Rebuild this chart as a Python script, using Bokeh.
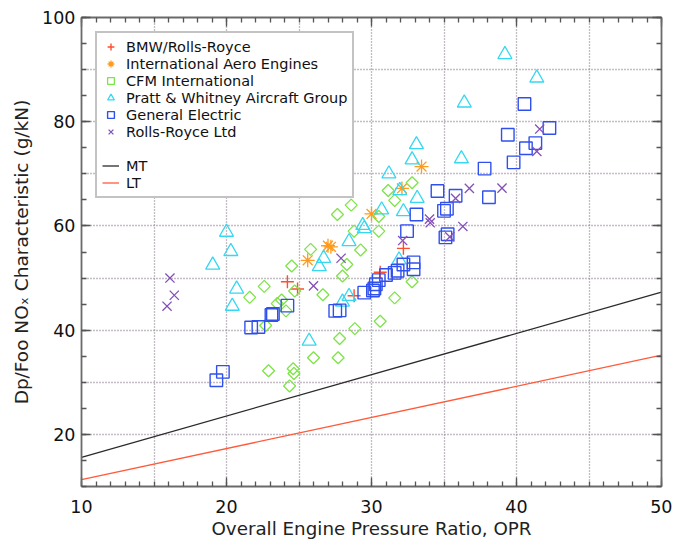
import math
from bokeh.plotting import figure
from bokeh.models import (LinearAxis, SingleIntervalTicker, FixedTicker, Legend,
                          LegendItem, CustomJSTickFormatter, Range1d)
from bokeh.embed import file_html
from bokeh.resources import INLINE

# ---- data ----
bmw_x = [24.2, 24.9, 28.8, 30.6, 32.2]
bmw_y = [49.3, 47.9, 46.6, 51.1, 55.7]

iae_x = [25.6, 27.0, 27.2, 30.0, 32.1, 33.45]
iae_y = [53.4, 56.2, 56.0, 62.3, 67.2, 71.4]

cfm_x = [21.6, 22.6, 22.7, 22.9, 23.5, 23.8, 24.1, 24.5, 24.7, 24.6, 24.65, 24.35,
         25.8, 26.0, 26.65, 27.65, 27.7, 27.8, 28.0, 28.3, 28.6, 28.8, 28.85, 29.25,
         30.5, 30.5, 30.6, 31.15, 31.6, 31.6, 32.8, 32.8]
cfm_y = [46.3, 48.4, 40.9, 32.2, 45.1, 45.8, 43.7, 52.3, 47.5, 32.6, 31.7, 29.3,
         55.5, 34.7, 46.8, 62.2, 34.7, 38.4, 50.4, 52.6, 64.0, 59.0, 40.3, 55.4,
         61.8, 59.0, 41.7, 66.8, 46.2, 64.9, 68.3, 49.3]

pw_x = [19.05, 20.0, 20.3, 20.7, 20.4, 25.7, 26.4, 26.7, 28.0, 28.45, 28.45, 29.4,
        29.5, 30.7, 31.2, 31.9, 31.95, 32.2, 32.8, 33.1, 33.15, 36.2, 36.4, 39.2, 41.4]
pw_y = [52.5, 58.8, 55.1, 47.9, 44.6, 37.9, 52.2, 53.8, 45.4, 46.5, 57.0, 60.1,
        59.5, 63.1, 70.0, 53.5, 66.8, 62.75, 72.7, 75.6, 65.3, 72.9, 83.6, 92.9, 88.4]

ge_x = [19.3, 19.75, 21.7, 22.2, 23.1, 23.2, 24.2, 27.5, 27.8,
        29.5, 30.1, 30.2, 30.3, 30.5, 31.0, 31.6, 31.8, 32.2, 32.9, 32.9,
        32.45, 33.1, 34.55, 35.0, 35.2, 35.1, 35.25, 35.8, 37.8, 38.1,
        39.4, 39.8, 40.55, 40.65, 41.3, 42.27]
ge_y = [30.4, 32.0, 40.5, 40.6, 42.9, 43.1, 44.7, 43.7, 43.8,
        47.2, 47.6, 48.0, 48.8, 49.6, 50.6, 51.0, 51.4, 52.6, 53.0, 51.7,
        59.0, 62.2, 66.7, 62.9, 63.3, 57.8, 58.4, 65.8, 71.0, 65.5,
        77.5, 72.2, 83.4, 74.9, 75.9, 78.8]

rr_x = [15.9, 16.1, 16.4, 26.0, 27.9, 32.15, 34.0, 34.05, 35.4, 35.8, 36.3, 36.75,
        39.0, 41.4, 41.6]
rr_y = [44.6, 50.0, 46.7, 48.5, 53.8, 57.2, 61.3, 60.6, 57.9, 65.3, 59.9, 67.2,
        67.25, 74.3, 78.6]

mt_x = [10, 50]
mt_y = [15.6, 47.3]
lt_x = [10, 50]
lt_y = [11.3, 35.2]

x_major = 10
y_major = 20
x_grid = [15, 20, 25, 30, 35, 40, 45]
y_grid = [20, 30, 40, 50, 60, 70, 80, 90]

FONT = "DejaVu Sans"
FRAME = "#6a6a6a"
TICK = "#555555"

p = figure(width=672, height=541, x_range=Range1d(10, 50), y_range=Range1d(10, 100),
           output_backend="svg", toolbar_location=None,
           min_border_left=81, min_border_right=11, min_border_top=17, min_border_bottom=54)
p.outline_line_color = None
p.background_fill_color = "white"
p.border_fill_color = "white"

# grid
p.xgrid.ticker = FixedTicker(ticks=x_grid)
p.ygrid.ticker = FixedTicker(ticks=y_grid)
p.grid.grid_line_color = "#8a7a8c"
p.grid.grid_line_dash = "1 2"
p.grid.grid_line_width = 1.3
p.grid.grid_line_alpha = 1.0

# axes
def style_axis(ax):
    ax.axis_line_color = FRAME
    ax.axis_line_width = 1.8
    ax.major_tick_line_color = TICK
    ax.minor_tick_line_color = TICK
    ax.major_tick_line_width = 1.3
    ax.minor_tick_line_width = 1.3
    ax.major_tick_in = 9
    ax.major_tick_out = 0
    ax.minor_tick_in = 5
    ax.minor_tick_out = 0

for ax in (p.xaxis[0], p.yaxis[0]):
    style_axis(ax)
    ax.major_label_text_font = FONT
    ax.major_label_text_font_size = "17.5px"
    ax.major_label_text_color = "#111111"
    ax.axis_label_text_font = FONT
    ax.axis_label_text_font_style = "normal"
    ax.axis_label_text_color = "#222222"

p.xaxis[0].ticker = SingleIntervalTicker(interval=x_major, num_minor_ticks=10)
p.yaxis[0].ticker = SingleIntervalTicker(interval=y_major, num_minor_ticks=4)
p.xaxis[0].axis_label = "Overall Engine Pressure Ratio, OPR"
p.yaxis[0].axis_label = "Dp/Foo NO\u2093 Characteristic (g/kN)"
p.xaxis[0].axis_label_text_font_size = "18.3px"
p.yaxis[0].axis_label_text_font_size = "18.5px"
p.xaxis[0].major_label_standoff = 13
p.xaxis[0].axis_label_standoff = 2
p.yaxis[0].major_label_standoff = 6
p.yaxis[0].axis_label_standoff = 7

# mirror axes (ticks only)
empty = CustomJSTickFormatter(code="return ''")
top = LinearAxis(ticker=SingleIntervalTicker(interval=x_major, num_minor_ticks=10), formatter=empty)
right = LinearAxis(ticker=SingleIntervalTicker(interval=y_major, num_minor_ticks=4), formatter=empty)
for ax in (top, right):
    style_axis(ax)
    ax.major_label_standoff = 0
    ax.major_label_text_font_size = "1px"
p.add_layout(top, "above")
p.add_layout(right, "right")

# reference lines
r_mt = p.line(mt_x, mt_y, line_color="#2a2a2a", line_width=1.3)
r_lt = p.line(lt_x, lt_y, line_color="#ff5a3a", line_width=1.3)

# data series
r_bmw = p.scatter(bmw_x, bmw_y, marker="cross", size=13, line_color="#ff4d2e",
                  fill_color=None, line_width=1.4)
r_iae = p.scatter(iae_x, iae_y, marker="asterisk", size=14, line_color="#ff9a1a",
                  fill_color=None, line_width=1.3)
r_cfm = p.scatter(cfm_x, cfm_y, marker="square", angle=math.pi / 4, size=8.5,
                  line_color="#7fe34a", fill_color=None, line_width=1.3)
r_pw = p.scatter(pw_x, pw_y, marker="triangle", size=14, line_color="#35d8f0",
                 fill_color=None, line_width=1.3)
r_ge = p.scatter(ge_x, ge_y, marker="square", size=12.5, line_color="#3050ee",
                 fill_color=None, line_width=1.4)
r_rr = p.scatter(rr_x, rr_y, marker="x", size=13, line_color="#8450b8",
                 fill_color=None, line_width=1.3)
r_blank = p.line(x=[], y=[], line_alpha=0)

legend = Legend(items=[
    LegendItem(label="BMW/Rolls-Royce", renderers=[r_bmw]),
    LegendItem(label="International Aero Engines", renderers=[r_iae]),
    LegendItem(label="CFM International", renderers=[r_cfm]),
    LegendItem(label="Pratt & Whitney Aircraft Group", renderers=[r_pw]),
    LegendItem(label="General Electric", renderers=[r_ge]),
    LegendItem(label="Rolls-Royce Ltd", renderers=[r_rr]),
    LegendItem(label=" ", renderers=[r_blank]),
    LegendItem(label="MT", renderers=[r_mt]),
    LegendItem(label="LT", renderers=[r_lt]),
], location="top_left")
legend.margin = 14
legend.padding = 5
legend.glyph_width = 17
legend.glyph_height = 17
legend.label_height = 17
legend.label_standoff = 7
legend.spacing = 0
legend.label_text_font = FONT
legend.label_text_font_size = "14.5px"
legend.label_text_color = "#111111"
legend.border_line_color = "#888888"
legend.border_line_width = 2
legend.background_fill_color = "white"
legend.background_fill_alpha = 1.0
p.add_layout(legend, "center")

open("out.html", "w").write(file_html(p, INLINE))
